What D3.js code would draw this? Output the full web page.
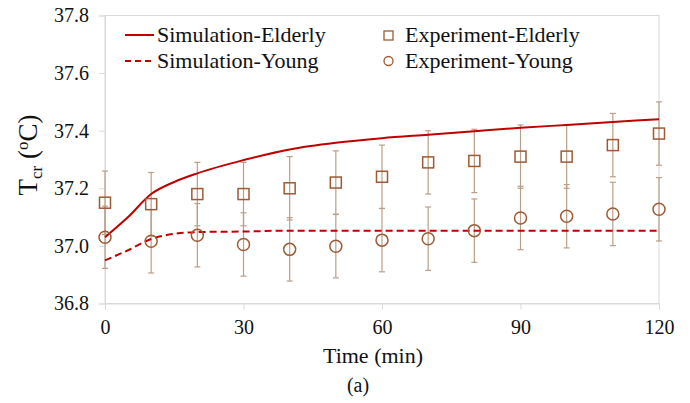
<!DOCTYPE html>
<html lang="en">
<head>
  <meta charset="UTF-8">
  <script src="https://d3js.org/d3.v7.min.js"></script>
  <style>
    html, body { margin: 0; padding: 0; background: #fff; }
  </style>
</head>
<body>
  <svg id="chart" width="690" height="403"></svg>
  <script>
    const serif = "'Liberation Serif', 'Times New Roman', Times, serif";

    // experiment time points (min)
    const expTimes = [0, 10, 20, 30, 40, 50, 60, 70, 80, 90, 100, 110, 120];
    const expElderly = [37.15, 37.145, 37.18, 37.18, 37.20, 37.22, 37.24, 37.29, 37.295, 37.31, 37.31, 37.35, 37.39];
    const sdElderly = [0.11, 0.11, 0.11, 0.11, 0.11, 0.11, 0.11, 0.11, 0.11, 0.11, 0.11, 0.11, 0.11];
    const expYoung = [37.03, 37.016, 37.037, 37.005, 36.988, 36.999, 37.02, 37.025, 37.053, 37.097, 37.103, 37.111, 37.127];
    const sdYoung = [0.108, 0.11, 0.11, 0.11, 0.11, 0.11, 0.11, 0.11, 0.11, 0.11, 0.11, 0.11, 0.11];

    // simulation curves
    const simTimes = [0, 5, 10, 15, 20, 30, 40, 50, 60, 70, 80, 90, 100, 110, 120];
    const simElderly = [37.03, 37.10, 37.18, 37.222, 37.252, 37.298, 37.335, 37.358, 37.374, 37.386, 37.398, 37.41, 37.42, 37.43, 37.44];
    const simYoung = [36.95, 36.985, 37.024, 37.042, 37.048, 37.05, 37.053, 37.053, 37.053, 37.053, 37.053, 37.053, 37.053, 37.053, 37.053];

    const xTicks = [0, 30, 60, 90, 120];
    const yTicks = [36.8, 37.0, 37.2, 37.4, 37.6, 37.8];

    const svg = d3.select("#chart").attr("font-family", serif);
    const margin = { top: 15.5, right: 31, bottom: 100, left: 105 };
    const width = +svg.attr("width");
    const height = +svg.attr("height");

    const red = "#c00000";
    const brown = "#9e5a35";
    const tan = "#bc9e86";

    const x = d3.scaleLinear().domain([0, 120]).range([margin.left, width - margin.right]);
    const y = d3.scaleLinear().domain([36.8, 37.8]).range([height - margin.bottom + 0.5, margin.top]);

    // plot border (top / right)
    svg.append("rect")
      .attr("x", x(0)).attr("y", y(37.8))
      .attr("width", x(120) - x(0)).attr("height", y(36.8) - y(37.8))
      .attr("fill", "none").attr("stroke", "#d9d9d9").attr("stroke-width", 1);

    // axes
    const xAxis = svg.append("g")
      .attr("transform", `translate(0,${y(36.8)})`)
      .call(d3.axisBottom(x).tickValues(xTicks).tickSize(6).tickPadding(10).tickFormat(d3.format("d")));
    const yAxis = svg.append("g")
      .attr("transform", `translate(${x(0)},0)`)
      .call(d3.axisLeft(y).tickValues(yTicks).tickSize(6).tickPadding(10).tickFormat(d3.format(".1f")));
    for (const ax of [xAxis, yAxis]) {
      ax.attr("font-family", serif).attr("font-size", 20);
      ax.select(".domain").attr("stroke", "#d9d9d9");
      ax.selectAll(".tick line").attr("stroke", "#d9d9d9");
      ax.selectAll(".tick text").attr("fill", "#111");
    }

    // error bars
    function errorBars(vals, sds) {
      const g = svg.append("g").attr("stroke", tan).attr("stroke-width", 1.2);
      expTimes.forEach((t, i) => {
        const lo = vals[i] - sds[i], hi = vals[i] + sds[i];
        g.append("line").attr("x1", x(t)).attr("x2", x(t)).attr("y1", y(lo)).attr("y2", y(hi));
        g.append("line").attr("x1", x(t) - 3).attr("x2", x(t) + 3).attr("y1", y(lo)).attr("y2", y(lo));
        g.append("line").attr("x1", x(t) - 3).attr("x2", x(t) + 3).attr("y1", y(hi)).attr("y2", y(hi));
      });
    }
    errorBars(expElderly, sdElderly);
    errorBars(expYoung, sdYoung);

    // simulation lines
    const line = d3.line().x(d => x(d[0])).y(d => y(d[1])).curve(d3.curveMonotoneX);
    svg.append("path")
      .attr("d", line(simTimes.map((t, i) => [t, simElderly[i]])))
      .attr("fill", "none").attr("stroke", red).attr("stroke-width", 2);
    svg.append("path")
      .attr("d", line(simTimes.map((t, i) => [t, simYoung[i]])))
      .attr("fill", "none").attr("stroke", red).attr("stroke-width", 2)
      .attr("stroke-dasharray", "7,4");

    // markers
    svg.append("g").selectAll("rect")
      .data(expTimes.map((t, i) => [t, expElderly[i]]))
      .join("rect")
      .attr("x", d => x(d[0]) - 5.5).attr("y", d => y(d[1]) - 5.5)
      .attr("width", 11).attr("height", 11)
      .attr("fill", "none").attr("stroke", brown).attr("stroke-width", 1.5);
    svg.append("g").selectAll("circle")
      .data(expTimes.map((t, i) => [t, expYoung[i]]))
      .join("circle")
      .attr("cx", d => x(d[0])).attr("cy", d => y(d[1])).attr("r", 6)
      .attr("fill", "none").attr("stroke", brown).attr("stroke-width", 1.5);

    // legend
    const leg = svg.append("g").attr("font-family", serif).attr("font-size", 22).attr("fill", "#111");
    leg.append("line").attr("x1", 125).attr("x2", 154).attr("y1", 35).attr("y2", 35)
      .attr("stroke", red).attr("stroke-width", 2);
    leg.append("text").attr("x", 157).attr("y", 42).text("Simulation-Elderly");
    leg.append("line").attr("x1", 125).attr("x2", 154).attr("y1", 61).attr("y2", 61)
      .attr("stroke", red).attr("stroke-width", 2).attr("stroke-dasharray", "6,4");
    leg.append("text").attr("x", 157).attr("y", 68).text("Simulation-Young");
    leg.append("rect").attr("x", 384).attr("y", 31).attr("width", 9).attr("height", 9)
      .attr("fill", "none").attr("stroke", brown).attr("stroke-width", 1.3);
    leg.append("text").attr("x", 405).attr("y", 42).text("Experiment-Elderly");
    leg.append("circle").attr("cx", 388.5).attr("cy", 61).attr("r", 4.5)
      .attr("fill", "none").attr("stroke", brown).attr("stroke-width", 1.3);
    leg.append("text").attr("x", 405).attr("y", 68).text("Experiment-Young");

    // axis titles
    svg.append("text").attr("x", 373).attr("y", 363).attr("text-anchor", "middle")
      .attr("font-size", 22).attr("fill", "#111").text("Time (min)");
    svg.append("text").attr("x", 358).attr("y", 392).attr("text-anchor", "middle")
      .attr("font-size", 20).attr("fill", "#111").text("(a)");
    const yt = svg.append("text")
      .attr("transform", "translate(37,155) rotate(-90)")
      .attr("text-anchor", "middle").attr("font-size", 27).attr("fill", "#111");
    yt.append("tspan").text("T");
    yt.append("tspan").attr("dy", 5).attr("font-size", 17).text("cr");
    yt.append("tspan").attr("dy", -5).text(" (");
    yt.append("tspan").attr("dy", -9).attr("font-size", 17).text("o");
    yt.append("tspan").attr("dy", 9).text("C)");
  </script>
</body>
</html>
